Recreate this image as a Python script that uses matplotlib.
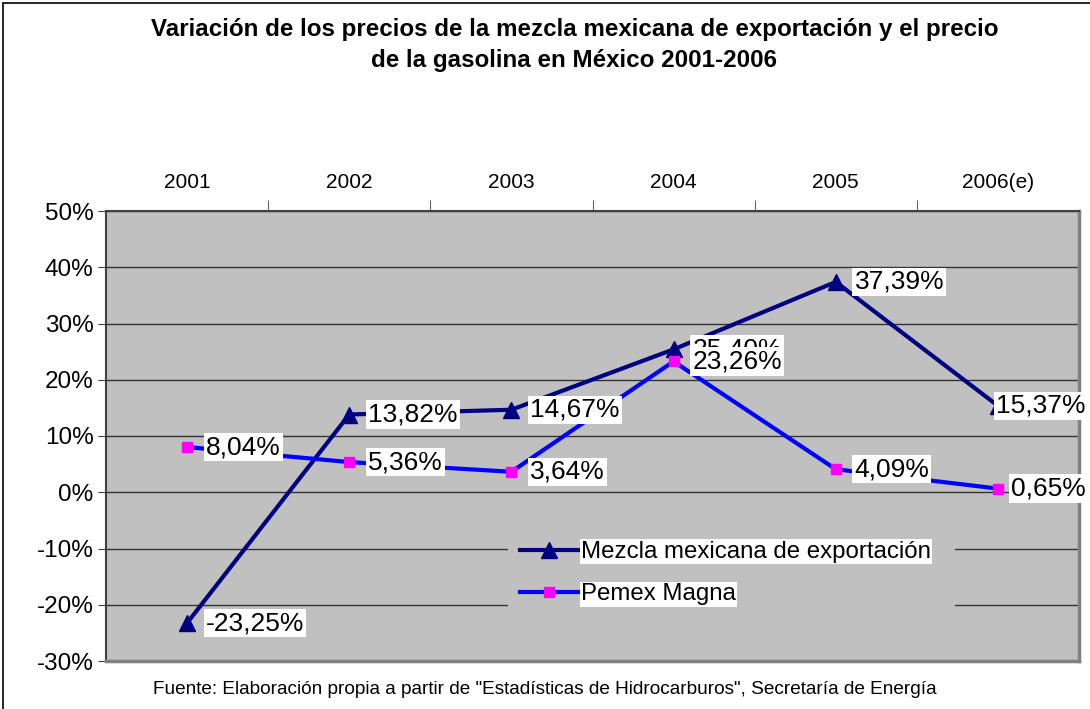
import numpy as np
import matplotlib
matplotlib.use("Agg")
from matplotlib import pyplot as plt
from matplotlib.patches import Rectangle

plt.rcParams['font.family'] = ['Liberation Sans', 'DejaVu Sans']

years = ["2001", "2002", "2003", "2004", "2005", "2006(e)"]
mezcla = [-23.25, 13.82, 14.67, 25.40, 37.39, 15.37]
magna = [8.04, 5.36, 3.64, 23.26, 4.09, 0.65]
yticks = [-30, -20, -10, 0, 10, 20, 30, 40, 50]

fig = plt.figure(figsize=(10.9, 7.09), dpi=100)
ax = fig.add_axes([106 / 1090, 48 / 709, 973 / 1090, 450 / 709])
ax.set_facecolor("#C0C0C0")

x = np.arange(len(years))

ax.plot(x, mezcla, color="#000080", linewidth=3, marker="^", markersize=12,
        markerfacecolor="#000080", markeredgecolor="#000080",
        label="Mezcla mexicana de exportación", zorder=3)
ax.plot(x, magna, color="#0000FF", linewidth=3, marker="s", markersize=7,
        markerfacecolor="#FF00FF", markeredgecolor="#FF00FF",
        label="Pemex Magna", zorder=3)

# data labels, magna on top
labels = []
for serie, z in [(mezcla, 4), (magna, 5)]:
    for xi, v in zip(x, serie):
        a = ax.annotate(f"{v:.2f}%".replace(".", ","), xy=(xi, v), xytext=(13.5, 0),
                        textcoords="offset points", ha="left", va="center",
                        fontsize=19, zorder=z, annotation_clip=False,
                        bbox=dict(facecolor="white", edgecolor="none", pad=1.5))
        labels.append(a)

ax.set_xlim(-0.5, 5.5)
ax.set_ylim(-30, 50)
ax.set_yticks(yticks)
ax.set_yticklabels([f"{t}%" for t in yticks], fontsize=17.5)
ax.yaxis.grid(True, color="#333333", linewidth=1)
ax.set_axisbelow(True)
ax.tick_params(axis="y", direction="out", length=6, color="#404040", pad=3)

ax.xaxis.tick_top()
ax.set_xticks(x)
ax.set_xticklabels(years, fontsize=15)
ax.tick_params(axis="x", which="major", length=0, pad=14)
ax.set_xticks(np.arange(0.5, 5.5, 1), minor=True)
ax.tick_params(axis="x", which="minor", direction="out", length=8,
               color="#404040", top=True, bottom=False)

for s in ["left", "top"]:
    ax.spines[s].set_color("#404040")
    ax.spines[s].set_linewidth(1.5)
for s in ["right", "bottom"]:
    ax.spines[s].set_color("#808080")
    ax.spines[s].set_linewidth(2.5)

leg = ax.legend(loc="lower left", bbox_to_anchor=(0.413, 0.097, 0.46, 0.19),
                mode="expand", fontsize=17.3, frameon=True, facecolor="#C0C0C0",
                edgecolor="none", framealpha=1, handlelength=2.4,
                borderaxespad=0, labelspacing=0.85, handletextpad=0.15,
                borderpad=0.5)
for t in leg.get_texts():
    t.set_bbox(dict(facecolor="white", edgecolor="none", pad=1))

fig.text(0.527, 0.975, "Variación de los precios de la mezcla mexicana de exportación y el precio\n"
         "de la gasolina en México 2001-2006", ha="center", va="top",
         fontsize=17.4, fontweight="bold", linespacing=1.45)
fig.text(0.5, 0.016, 'Fuente: Elaboración propia a partir de "Estadísticas de Hidrocarburos", '
         'Secretaría de Energía', ha="center", va="bottom", fontsize=13.7)

fig.patches.append(Rectangle((3 / 1090, -0.05), 1.1, 1.05 - 3 / 709,
                             transform=fig.transFigure, fill=False,
                             edgecolor="black", linewidth=1.2))

# keep labels inside the chart area, like Excel does
fig.canvas.draw()
r = fig.canvas.get_renderer()
for a in labels:
    bb = a.get_window_extent(r)
    over = bb.x1 + 4 - fig.bbox.width
    if over > 0:
        ox, oy = a.xyann
        a.xyann = (ox - over * 72 / fig.dpi, oy)

fig.savefig("out.png", dpi=100)
